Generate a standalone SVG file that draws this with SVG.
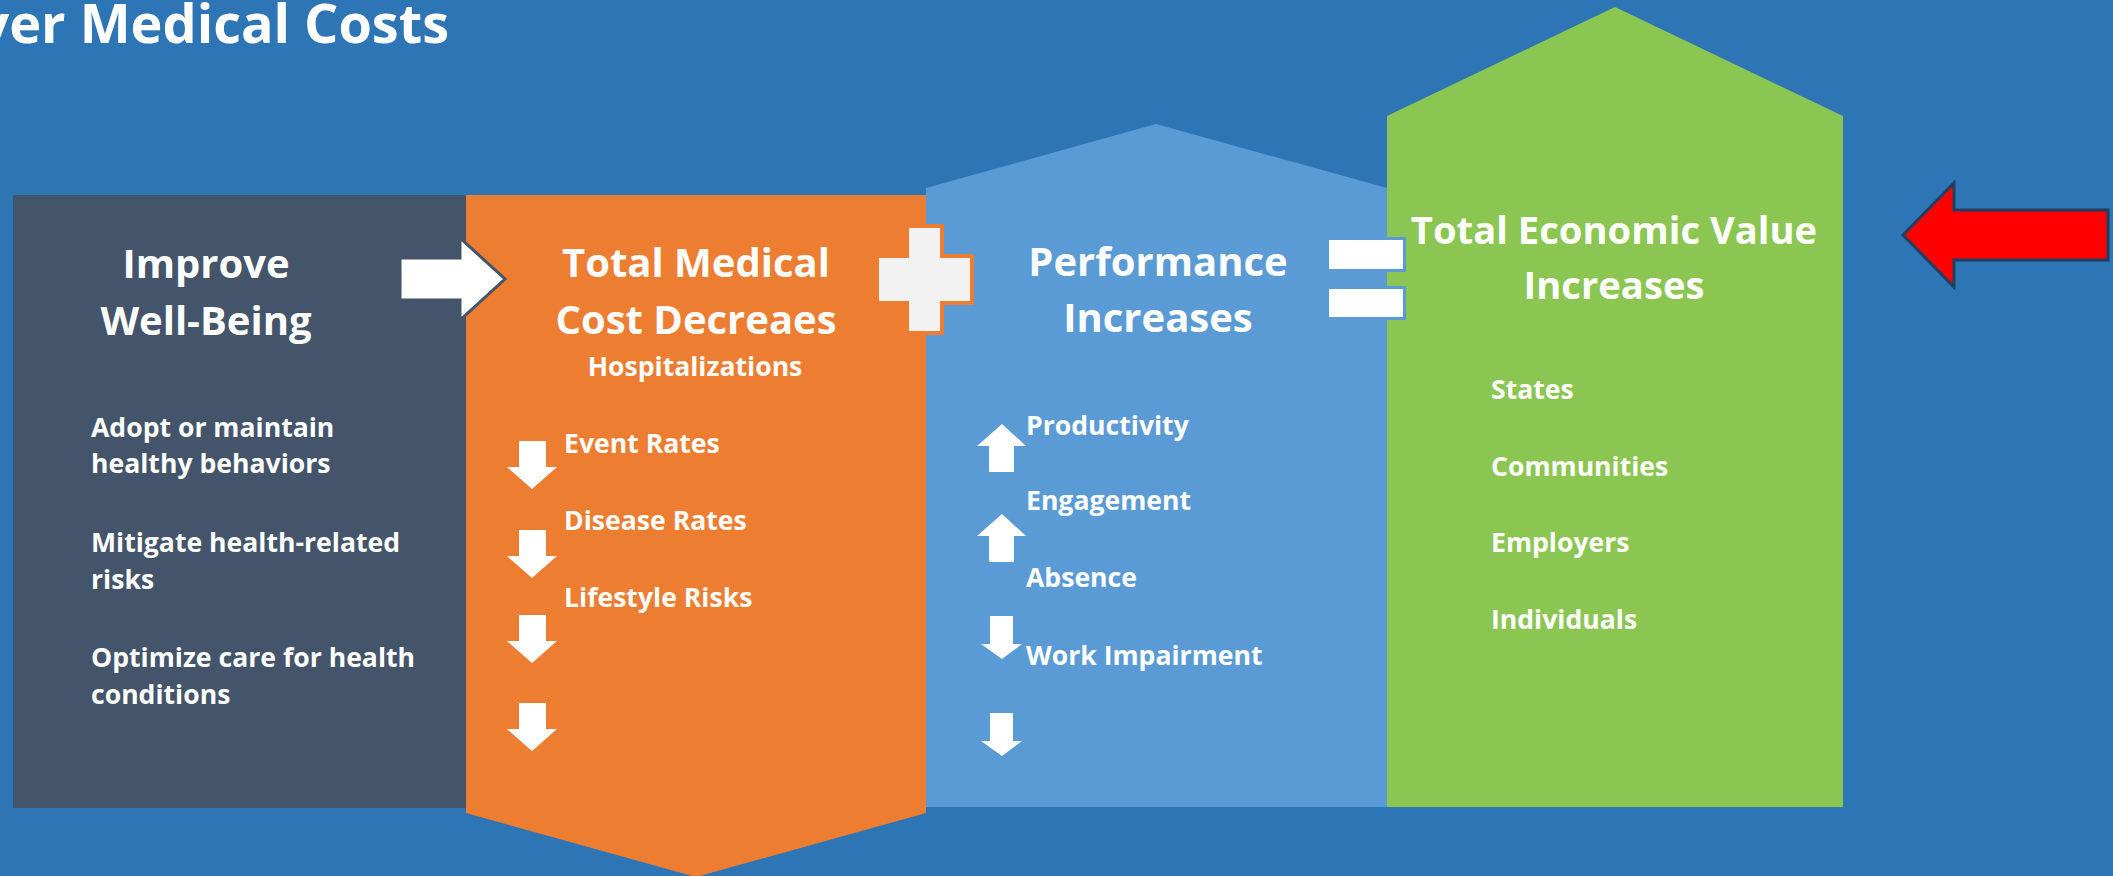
<svg xmlns="http://www.w3.org/2000/svg" width="2113" height="876" viewBox="0 0 2113 876">
  <style>
    text { font-family: "Open Sans", "Liberation Sans", sans-serif; font-weight: 700; fill: #FFFFFF; }
    .title { font-size: 54px; }
    .head { font-size: 40px; text-anchor: middle; }
    .head-sm { font-size: 38.2px; text-anchor: middle; }
    .item { font-size: 26.6px; }
    .sub { font-size: 26.6px; text-anchor: middle; }
    .tick { fill: #FFFFFF; }
  </style>
  <defs>
    <!-- small white up / down arrows, drawn with the tip at the origin -->
    <polygon id="down-o" class="tick" points="0,0 -25,-22 -13,-22 -13,-48 14,-48 14,-22 25,-22"/>
    <polygon id="up-b" class="tick" points="0,0 24,22 12,22 12,48 -13,48 -13,22 -25,22"/>
    <polygon id="down-b" class="tick" points="0,0 -21,-15 -12,-15 -12,-43 11,-43 11,-15 20,-15"/>
  </defs>

  <!-- background -->
  <rect x="0" y="0" width="2113" height="876" fill="#2E75B6"/>

  <!-- slide title, running in from the left edge -->
  <text class="title" x="449" y="43" text-anchor="end">ver Medical Costs</text>

  <!-- Stage 1: well-being -->
  <g id="node-wellbeing">
    <rect x="13" y="195" width="453" height="613" fill="#44546A"/>
    <text class="head" x="206" y="278">Improve</text>
    <text class="head" x="206" y="335">Well-Being</text>
    <text class="item" x="91" y="437">Adopt or maintain</text>
    <text class="item" x="91" y="473">healthy behaviors</text>
    <text class="item" x="91" y="552">Mitigate health-related</text>
    <text class="item" x="91" y="589">risks</text>
    <text class="item" x="91" y="667">Optimize care for health</text>
    <text class="item" x="91" y="704">conditions</text>
  </g>

  <!-- Stage 3: performance (drawn first, the green stage overlaps its roof) -->
  <g id="node-performance">
    <polygon points="926,188 1156,124 1387,188 1387,807 926,807" fill="#5B9BD5"/>
    <text class="head" x="1158" y="276">Performance</text>
    <text class="head" x="1158" y="332">Increases</text>
    <use href="#up-b" x="1002" y="424"/>
    <use href="#up-b" x="1002" y="514"/>
    <use href="#down-b" x="1002" y="659"/>
    <use href="#down-b" x="1002" y="756"/>
    <text class="item" x="1026" y="435">Productivity</text>
    <text class="item" x="1026" y="510">Engagement</text>
    <text class="item" x="1026" y="587">Absence</text>
    <text class="item" x="1026" y="665">Work Impairment</text>
  </g>

  <!-- Stage 2: medical cost -->
  <g id="node-medical">
    <polygon points="466,195 926,195 926,813 696,877 466,813" fill="#ED7D31"/>
    <text class="head" x="696" y="277">Total Medical</text>
    <text class="head" x="696" y="334">Cost Decreaes</text>
    <text class="sub" x="695" y="376">Hospitalizations</text>
    <use href="#down-o" x="532" y="489"/>
    <use href="#down-o" x="532" y="578"/>
    <use href="#down-o" x="532" y="663"/>
    <use href="#down-o" x="532" y="751"/>
    <text class="item" x="564" y="453">Event Rates</text>
    <text class="item" x="564" y="530">Disease Rates</text>
    <text class="item" x="564" y="607">Lifestyle Risks</text>
  </g>

  <!-- Stage 4: economic value -->
  <g id="node-value">
    <polygon points="1387,116 1615,7 1843,116 1843,807 1387,807" fill="#8BC652"/>
    <text class="head-sm" x="1614" y="244">Total Economic Value</text>
    <text class="head-sm" x="1614" y="299">Increases</text>
    <text class="item" x="1491" y="399">States</text>
    <text class="item" x="1491" y="476">Communities</text>
    <text class="item" x="1491" y="552">Employers</text>
    <text class="item" x="1491" y="629">Individuals</text>
  </g>

  <!-- operators and arrows between the stages -->
  <g id="connectors">
    <polygon id="arrow-next" points="400,258 460,258 460,238 505,279 460,320 460,300 400,300" fill="#FFFFFF" stroke="#44546A" stroke-width="3" stroke-linejoin="miter"/>
    <polygon id="plus" points="907,226 942,226 942,256 972,256 972,303 942,303 942,333 907,333 907,303 877,303 877,256 907,256" fill="#F2F2F2" stroke="#ED7D31" stroke-width="4"/>
    <g id="equals" fill="#FFFFFF" stroke="#5B9BD5" stroke-width="3">
      <rect x="1327.5" y="238.5" width="77" height="32"/>
      <rect x="1327.5" y="287.5" width="77" height="31"/>
    </g>
    <polygon id="arrow-pointer" points="1903,235 1954,183 1954,210 2108,210 2108,260 1954,260 1954,287" fill="#FF0000" stroke="#203F5E" stroke-width="3"/>
  </g>
</svg>
